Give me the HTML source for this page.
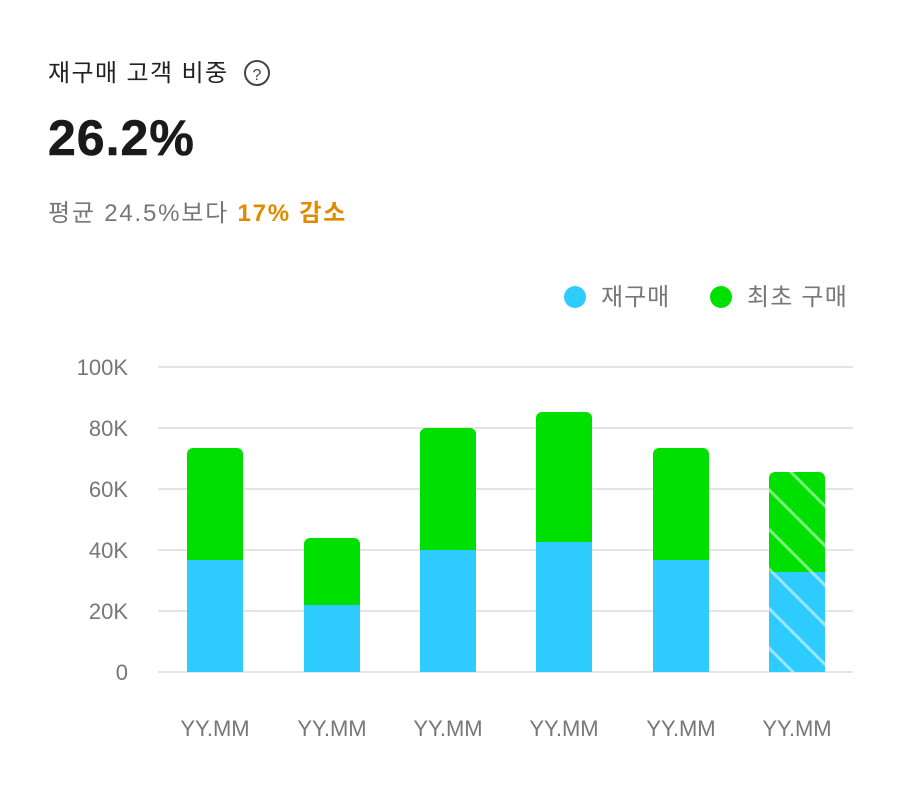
<!DOCTYPE html>
<html><head><meta charset="utf-8"><style>
body{margin:0;background:#fff;width:901px;height:792px;overflow:hidden;font-family:"Liberation Sans","Noto Sans CJK KR",sans-serif}
</style></head><body>
<svg width="901" height="792" xmlns="http://www.w3.org/2000/svg" font-family="Liberation Sans, Noto Sans CJK KR, sans-serif">
<defs>
<pattern id="hb" patternUnits="userSpaceOnUse" width="28" height="28" patternTransform="rotate(-45)">
<rect width="28" height="28" fill="#2ECBFF"/><rect x="0" width="3" height="28" fill="#9BE6FF"/></pattern>
<pattern id="hg" patternUnits="userSpaceOnUse" width="28" height="28" patternTransform="rotate(-45)">
<rect width="28" height="28" fill="#00E000"/><rect x="0" width="3" height="28" fill="#7DF07D"/></pattern>
</defs>
<text x="48" y="81" font-size="24" letter-spacing="1.4" fill="#222">재구매 고객 비중</text>
<circle cx="257" cy="73" r="12" fill="none" stroke="#444" stroke-width="2"/>
<text x="257" y="80" font-size="16" fill="#444" text-anchor="middle">?</text>
<text x="48" y="155" font-size="50" font-weight="bold" letter-spacing="1" fill="#1a1a1a" stroke="#1a1a1a" stroke-width="0.6">26.2%</text>
<text x="48" y="221" font-size="24" letter-spacing="1.8" fill="#777">평균 24.5%보다 <tspan fill="#E08A00" font-weight="bold">17% 감소</tspan></text>
<circle cx="575" cy="297" r="11" fill="#2ECBFF"/>
<text x="601" y="305" font-size="24" letter-spacing="1" fill="#777">재구매</text>
<circle cx="721" cy="297" r="11" fill="#00E000"/>
<text x="747" y="305" font-size="24" letter-spacing="1.2" fill="#777">최초 구매</text>
<g stroke="#e4e4e4" stroke-width="2">
<line x1="158" x2="853" y1="367" y2="367"/><line x1="158" x2="853" y1="428" y2="428"/>
<line x1="158" x2="853" y1="489" y2="489"/><line x1="158" x2="853" y1="550" y2="550"/>
<line x1="158" x2="853" y1="611" y2="611"/><line x1="158" x2="853" y1="672" y2="672"/>
</g>
<g font-size="22" fill="#777" text-anchor="end">
<text x="128" y="375">100K</text><text x="128" y="436">80K</text><text x="128" y="497">60K</text>
<text x="128" y="558">40K</text><text x="128" y="619">20K</text><text x="128" y="680">0</text>
</g>
<g>
<path d="M187,560V454a6,6 0 0 1 6,-6H237a6,6 0 0 1 6,6V560Z" fill="#00E000"/><rect x="187" y="560" width="56" height="112" fill="#2ECBFF"/>
<path d="M304,605V544a6,6 0 0 1 6,-6H354a6,6 0 0 1 6,6V605Z" fill="#00E000"/><rect x="304" y="605" width="56" height="67" fill="#2ECBFF"/>
<path d="M420,550V434a6,6 0 0 1 6,-6H470a6,6 0 0 1 6,6V550Z" fill="#00E000"/><rect x="420" y="550" width="56" height="122" fill="#2ECBFF"/>
<path d="M536,542V418a6,6 0 0 1 6,-6H586a6,6 0 0 1 6,6V542Z" fill="#00E000"/><rect x="536" y="542" width="56" height="130" fill="#2ECBFF"/>
<path d="M653,560V454a6,6 0 0 1 6,-6H703a6,6 0 0 1 6,6V560Z" fill="#00E000"/><rect x="653" y="560" width="56" height="112" fill="#2ECBFF"/>
<path d="M769,572V478a6,6 0 0 1 6,-6H819a6,6 0 0 1 6,6V572Z" fill="url(#hg)"/><rect x="769" y="572" width="56" height="100" fill="url(#hb)"/>
</g>
<g font-size="22" fill="#777" text-anchor="middle">
<text x="215" y="736">YY.MM</text><text x="332" y="736">YY.MM</text><text x="448" y="736">YY.MM</text>
<text x="564" y="736">YY.MM</text><text x="681" y="736">YY.MM</text><text x="797" y="736">YY.MM</text>
</g>
</svg>
</body></html>
